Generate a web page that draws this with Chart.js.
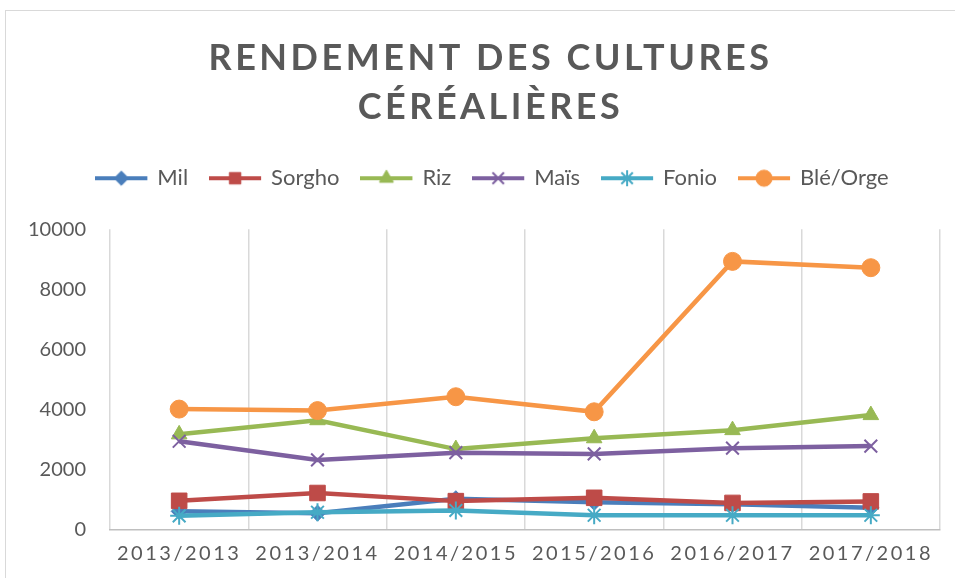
<!DOCTYPE html>
<html lang="fr">
<head>
<meta charset="utf-8">
<title>Rendement des cultures céréalières</title>
<script src="https://cdn.jsdelivr.net/npm/chart.js@4.4.1/dist/chart.umd.min.js"></script>
<style>
  body { margin: 0; background: #fff; }
  #cadre { position: absolute; left: 5px; top: 10px; width: 960px; height: 580px; border: 1px solid #d9d9d9; }
  #zone { position: absolute; left: 0; top: 0; width: 955px; height: 578px; }
</style>
</head>
<body>
<div id="cadre"></div>
<div id="zone"><canvas id="graphique"></canvas></div>
<script>
const campagnes = ["2013/2013", "2013/2014", "2014/2015", "2015/2016", "2016/2017", "2017/2018"];
const mil = [620, 560, 1040, 920, 860, 740];
const sorgho = [970, 1230, 960, 1070, 900, 950];
const riz = [3180, 3650, 2690, 3050, 3320, 3820];
const mais = [2950, 2330, 2570, 2530, 2720, 2790];
const fonio = [470, 590, 650, 490, 490, 490];
const bleOrge = [4020, 3970, 4430, 3930, 8930, 8720];
const ticksY = [0, 2000, 4000, 6000, 8000, 10000];

const police = "Lato, 'Open Sans', sans-serif";
const gris = "#595959";

function serie(label, data, couleur, forme, rayon, ordre) {
  return {
    label: label,
    data: data,
    borderColor: couleur,
    backgroundColor: couleur,
    pointBackgroundColor: couleur,
    pointBorderColor: couleur,
    borderWidth: 4.5,
    pointStyle: forme,
    pointRadius: rayon,
    pointHoverRadius: rayon,
    pointBorderWidth: (forme === "crossRot" || forme === "star") ? 2 : 1,
    tension: 0,
    order: ordre
  };
}

const datasets = [
  serie("Mil", mil, "#4a7ebb", "rectRot", 8, 6),
  serie("Sorgho", sorgho, "#be4b48", "rect", 11, 5),
  serie("Riz", riz, "#98b954", "triangle", 9, 4),
  serie("Maïs", mais, "#7d60a0", "crossRot", 9, 3),
  serie("Fonio", fonio, "#46aac5", "star", 9, 2),
  serie("Blé/Orge", bleOrge, "#f79646", "circle", 9, 1)
];

// petite icone ligne + marqueur pour la legende
function icone(ds) {
  const c = document.createElement("canvas");
  c.width = 56; c.height = 20;
  const ctx = c.getContext("2d");
  ctx.strokeStyle = ds.borderColor;
  ctx.fillStyle = ds.borderColor;
  ctx.lineWidth = 4;
  ctx.beginPath();
  ctx.moveTo(0, 10); ctx.lineTo(52, 10);
  ctx.stroke();
  ctx.lineWidth = ds.pointBorderWidth;
  Chart.helpers.drawPoint(ctx, { pointStyle: ds.pointStyle, radius: Math.min(ds.pointRadius, 9) * 0.9, rotation: 0, borderWidth: ds.pointBorderWidth }, 26, 10);
  return c;
}

// espacement des lettres + petit decalage horizontal (le cadre Excel est centre plus a droite)
function envelopper(box, methode, espace, dx) {
  if (!box || box["_esp_" + methode]) return;
  const orig = box[methode];
  box[methode] = function (a) {
    const ctx = this.ctx;
    ctx.save();
    ctx.letterSpacing = espace;
    ctx.translate(dx, 0);
    orig.call(this, a);
    ctx.restore();
  };
  box["_esp_" + methode] = true;
}

const espacement = {
  id: "espacement",
  beforeLayout(chart) {
    const leg = chart.legend;
    if (leg && !leg._agrandie) {
      const fit = leg.fit;
      leg.fit = function () { fit.call(this); this.height += 30; };
      leg._agrandie = true;
    }
  },
  afterLayout(chart) {
    envelopper(chart.titleBlock, "draw", "3.5px", 18);
    envelopper(chart.legend, "draw", "0px", 22);
    envelopper(chart.scales.x, "drawLabels", "2.5px", 0);
  }
};

new Chart(document.getElementById("graphique"), {
  type: "line",
  data: { labels: campagnes, datasets: datasets },
  plugins: [espacement],
  options: {
    responsive: true,
    maintainAspectRatio: false,
    animation: false,
    layout: { padding: { top: 34, left: 5, right: 15, bottom: 0 } },
    plugins: {
      title: {
        display: true,
        text: ["RENDEMENT DES CULTURES", "CÉRÉALIÈRES"],
        color: gris,
        font: { family: police, size: 36, weight: "bold", lineHeight: 1.35 },
        padding: { top: 0, bottom: 10 }
      },
      legend: {
        position: "top",
        labels: {
          color: gris,
          font: { family: police, size: 22 },
          usePointStyle: true,
          pointStyleWidth: 46,
          padding: 26,
          generateLabels(chart) {
            return chart.data.datasets.map((ds, i) => ({
              text: ds.label,
              fontColor: gris,
              pointStyle: icone(ds),
              datasetIndex: i,
              hidden: false,
              lineWidth: 0,
              strokeStyle: ds.borderColor,
              fillStyle: ds.borderColor
            }));
          }
        }
      },
      tooltip: { enabled: false }
    },
    scales: {
      x: {
        offset: true,
        grid: { display: true, offset: true, color: "#d9d9d9", lineWidth: 1.5, drawTicks: false },
        border: { display: true, color: "#bfbfbf", width: 1.5 },
        ticks: { color: gris, font: { family: police, size: 20 }, padding: 12, maxRotation: 0, autoSkip: false }
      },
      y: {
        min: 0,
        max: 10000,
        afterBuildTicks(scale) { scale.ticks = ticksY.map(v => ({ value: v })); },
        afterFit(scale) { scale.width = 105; },
        grid: { display: false, drawTicks: false },
        border: { display: false },
        ticks: { color: gris, font: { family: police, size: 20 }, padding: 24, callback: v => String(v) }
      }
    }
  }
});
</script>
</body>
</html>
